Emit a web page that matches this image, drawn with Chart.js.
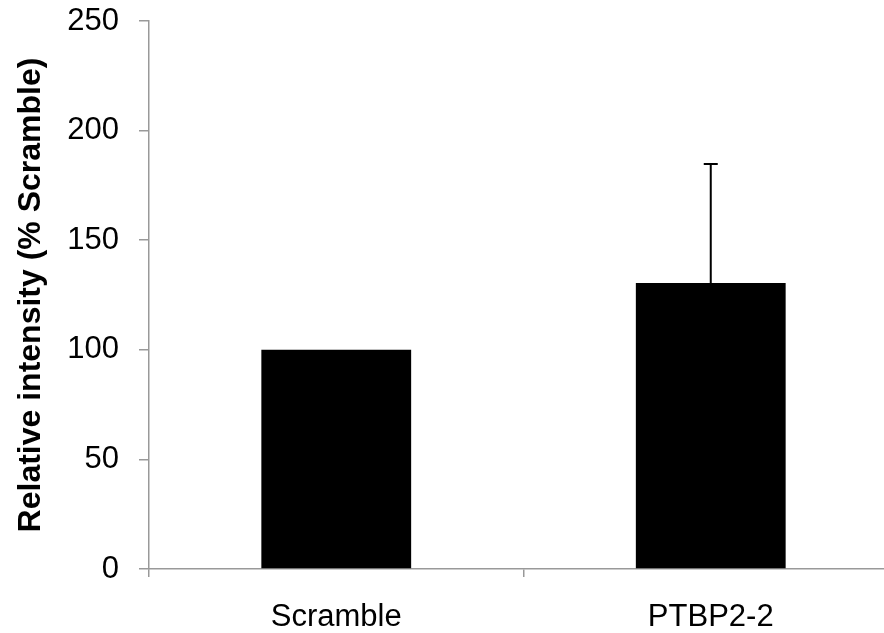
<!DOCTYPE html>
<html>
<head>
<meta charset="utf-8">
<script src="https://cdn.jsdelivr.net/npm/chart.js@4.4.0/dist/chart.umd.min.js"></script>
<style>
  html, body { margin: 0; padding: 0; background: #fff; overflow: hidden; }
  #wrap { width: 884px; height: 633px; overflow: hidden; }
</style>
</head>
<body>
<!-- the x axis in the original runs past the right edge, so the canvas is a bit wider than the window -->
<div id="wrap"><canvas id="chart" width="900" height="633"></canvas></div>
<script>
const categories = ['Scramble', 'PTBP2-2'];
const values = [100, 130.5];
const errorPlus = [0, 54.3];
const yTicks = [0, 50, 100, 150, 200, 250];

const AXIS_GREY = '#999999';
const FONT = 'Liberation Sans, Arial, sans-serif';

// draws the upper error bar (line + small cap) on top of each bar
const errorBars = {
    id: 'errorBars',
    afterDatasetsDraw(chart) {
        const ctx = chart.ctx;
        const xs = chart.scales.x;
        const ys = chart.scales.y;
        ctx.save();
        ctx.strokeStyle = '#000';
        ctx.lineWidth = 2;
        values.forEach((v, i) => {
            if (!errorPlus[i]) return;
            const x = xs.getPixelForValue(i);
            const yTop = ys.getPixelForValue(v + errorPlus[i]);
            const yBase = ys.getPixelForValue(v);
            ctx.beginPath();
            ctx.moveTo(x, yBase);
            ctx.lineTo(x, yTop);
            ctx.moveTo(x - 7, yTop);
            ctx.lineTo(x + 7, yTop);
            ctx.stroke();
        });
        ctx.restore();
    }
};

new Chart(document.getElementById('chart').getContext('2d'), {
    type: 'bar',
    data: {
        labels: categories,
        datasets: [{
            data: values,
            backgroundColor: '#000',
            borderWidth: 0,
            barPercentage: 0.4,
            categoryPercentage: 1.0
        }]
    },
    options: {
        responsive: false,
        animation: false,
        events: [],
        layout: { padding: { left: 12, top: 21, right: 2, bottom: 0 } },
        plugins: { legend: { display: false }, tooltip: { enabled: false } },
        scales: {
            x: {
                grid: { drawOnChartArea: false, color: AXIS_GREY, lineWidth: 1.5, tickLength: 8, offset: true },
                border: { color: AXIS_GREY, width: 1.5 },
                ticks: { color: '#000', font: { family: FONT, size: 31 }, padding: 22 },
                afterFit(scale) { scale.height = 64; }
            },
            y: {
                min: 0,
                max: 250,
                afterBuildTicks(scale) { scale.ticks = yTicks.map(v => ({ value: v })); },
                grid: { drawOnChartArea: false, color: AXIS_GREY, lineWidth: 1.5, tickLength: 10 },
                border: { color: AXIS_GREY, width: 1.5 },
                ticks: { color: '#000', font: { family: FONT, size: 31 }, padding: 20 },
                title: {
                    display: true,
                    text: 'Relative intensity (% Scramble)',
                    color: '#000',
                    font: { family: FONT, size: 32, weight: 'bold' },
                    padding: 0
                },
                afterFit(scale) {
                    scale.width = 137;
                    scale.paddingTop = 0;
                    scale.paddingBottom = 0;
                }
            }
        }
    },
    plugins: [errorBars]
});
</script>
</body>
</html>
